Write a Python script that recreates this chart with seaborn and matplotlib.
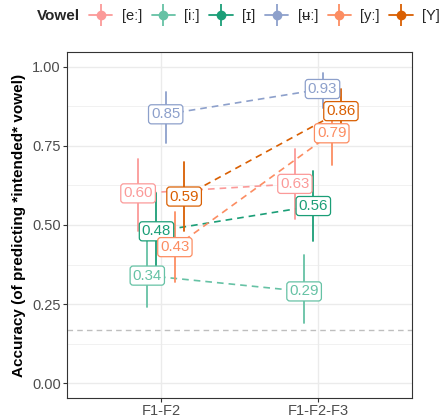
import numpy as np
import pandas as pd
import matplotlib
matplotlib.use("Agg")
import matplotlib.pyplot as plt
import seaborn as sns
from matplotlib.lines import Line2D
from matplotlib.legend_handler import HandlerTuple

sns.set_theme(style="white")
plt.rcParams['font.family'] = ['Liberation Sans', 'DejaVu Sans']

conditions = ["F1-F2", "F1-F2-F3"]
vowels = ["[eː]", "[iː]", "[ɪ]", "[ʉː]", "[yː]", "[Y]"]
colors = ["#FB9A99", "#66C2A5", "#1B9E77", "#8DA0CB", "#FC8D62", "#D95F02"]

mean_f1f2 = [0.60, 0.34, 0.48, 0.85, 0.43, 0.59]
lo_f1f2 = [0.48, 0.24, 0.37, 0.76, 0.32, 0.48]
hi_f1f2 = [0.71, 0.45, 0.60, 0.92, 0.54, 0.70]

mean_f1f2f3 = [0.63, 0.29, 0.56, 0.93, 0.79, 0.86]
lo_f1f2f3 = [0.52, 0.19, 0.45, 0.87, 0.69, 0.79]
hi_f1f2f3 = [0.74, 0.405, 0.67, 0.98, 0.89, 0.93]

chance = 1 / 6

rows = []
for ci, (m, lo, hi) in enumerate([(mean_f1f2, lo_f1f2, hi_f1f2), (mean_f1f2f3, lo_f1f2f3, hi_f1f2f3)]):
    for vi, v in enumerate(vowels):
        rows.append(dict(condition=conditions[ci], cidx=ci + 1, vowel=v, vidx=vi,
                         mean=m[vi], lo=lo[vi], hi=hi[vi]))
df = pd.DataFrame(rows)
dodge = 0.0587
df["x"] = df["cidx"] + (df["vidx"] - 2.5) * dodge

fig = plt.figure(figsize=(4.48, 4.19), dpi=100)
ax = fig.add_axes([67 / 448, 1 - 398 / 419, 345 / 448, 346 / 419])

# grid
for y in np.arange(0.125, 1.0, 0.25):
    ax.axhline(y, color="#EBEBEB", lw=0.5, zorder=0)
for y in np.arange(0, 1.01, 0.25):
    ax.axhline(y, color="#EBEBEB", lw=1.0, zorder=0)
for x in [1, 2]:
    ax.axvline(x, color="#EBEBEB", lw=1.0, zorder=0)

ax.axhline(chance, color="#BEBEBE", lw=1.0, ls=(0, (4, 3)), zorder=1)

pal = dict(zip(vowels, colors))
sns.lineplot(data=df, x="x", y="mean", hue="vowel", hue_order=vowels, palette=pal,
             ax=ax, legend=False, lw=1.2, dashes=False, estimator=None, sort=False,
             zorder=2)
for line in ax.get_lines()[-len(vowels):]:
    line.set_linestyle((0, (4, 3)))

for _, r in df.iterrows():
    ax.plot([r["x"], r["x"]], [r["lo"], r["hi"]], color=pal[r["vowel"]], lw=1.3, zorder=3)

for _, r in df.iterrows():
    c = pal[r["vowel"]]
    ax.text(r["x"], r["mean"], f"{r['mean']:.2f}", color=c, fontsize=10.8,
            ha="center", va="center", zorder=5,
            bbox=dict(boxstyle="round,pad=0.17,rounding_size=0.2", fc="white", ec=c, lw=0.9))

ax.set_xlim(0.4, 2.6)
ax.set_ylim(-0.047, 1.047)
ax.set_xticks([1, 2])
ax.set_xticklabels(conditions)
ax.set_yticks([0, 0.25, 0.5, 0.75, 1.0])
ax.set_yticklabels(["0.00", "0.25", "0.50", "0.75", "1.00"])
ax.tick_params(axis="both", labelsize=10.5, labelcolor="#4D4D4D", colors="#333333",
               length=3, width=0.8, left=True, bottom=True, pad=1.5)
ax.tick_params(axis="both", labelcolor="#4D4D4D")
ax.set_xlabel("")
ax.set_ylabel("Accuracy (of predicting *intended* vowel)", fontsize=11, fontweight="bold",
              color="black", labelpad=4)
for s in ax.spines.values():
    s.set_color("#333333")
    s.set_linewidth(0.8)

handles = []
for c in colors:
    h1 = Line2D([0], [0], color=c, lw=1.3, marker="o", markersize=6)
    h2 = Line2D([0], [0], color=c, lw=0, marker="|", markersize=16, markeredgewidth=1.3)
    handles.append((h1, h2))
fig.text(37 / 448, 1 - 16 / 419, "Vowel", fontsize=11, fontweight="bold", ha="left", va="center")
fig.legend(handles, vowels, handler_map={tuple: HandlerTuple(ndivide=1)},
           loc="center left", bbox_to_anchor=(89 / 448, 1 - 16 / 419), ncol=6, frameon=False,
           fontsize=10.5, handlelength=1.6, handletextpad=0.65, columnspacing=0.65,
           borderpad=0, borderaxespad=0)

fig.savefig("out.png", dpi=100)
